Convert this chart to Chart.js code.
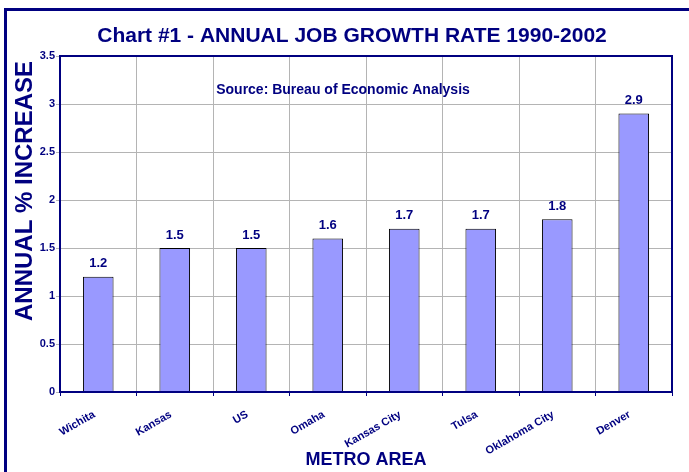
<!DOCTYPE html>
<html lang="en">
<head>
  <title>Annual Job Growth Rate</title>
  <meta charset="UTF-8">
  <script src="https://cdn.jsdelivr.net/npm/chart.js"></script>
  <style>
    body { margin: 0; background: #fff; }
  </style>
</head>
<body>
  <canvas id="growthChart" width="689" height="472"></canvas>

  <script>
    // chart data
    const metroAreas = ['Wichita', 'Kansas', 'US', 'Omaha', 'Kansas City', 'Tulsa', 'Oklahoma City', 'Denver'];
    const growthRates = [1.2, 1.5, 1.5, 1.6, 1.7, 1.7, 1.8, 2.9];
    const yTickLabels = ['0', '0.5', '1', '1.5', '2', '2.5', '3', '3.5'];
    const yMin = 0;
    const yMax = 3.5;
    const yStep = 0.5;

    const navy = '#000080';
    Chart.defaults.font.family = "'Liberation Sans', Arial, sans-serif";

    // frame round the whole chart, box round the plot, titles, source note, value labels
    const extras = {
      id: 'extras',
      beforeDraw(chart) {
        const ctx = chart.ctx;
        ctx.save();
        ctx.fillStyle = '#fff';
        ctx.fillRect(0, 0, chart.width, chart.height);
        ctx.strokeStyle = navy;
        ctx.lineWidth = 3;
        ctx.beginPath();
        ctx.moveTo(5.5, chart.height);
        ctx.lineTo(5.5, 9.5);
        ctx.lineTo(chart.width, 9.5);
        ctx.stroke();

        ctx.fillStyle = navy;
        ctx.textAlign = 'center';
        ctx.textBaseline = 'middle';
        ctx.font = "bold 21px 'Liberation Sans', Arial";
        ctx.fillText('Chart #1 - ANNUAL JOB GROWTH RATE 1990-2002', 352, 36);
        ctx.restore();
      },
      afterDatasetsDraw(chart) {
        const ctx = chart.ctx;
        const a = chart.chartArea;
        ctx.save();
        ctx.strokeStyle = navy;
        ctx.lineWidth = 2;
        ctx.strokeRect(a.left, a.top, a.right - a.left, a.bottom - a.top);

        ctx.fillStyle = navy;
        ctx.textAlign = 'center';
        ctx.textBaseline = 'middle';
        ctx.font = "bold 14px 'Liberation Sans', Arial";
        ctx.fillText('Source: Bureau of Economic Analysis', 343, 90);

        ctx.font = "bold 13px 'Liberation Sans', Arial";
        chart.getDatasetMeta(0).data.forEach((bar, i) => {
          ctx.fillText(growthRates[i].toFixed(1), bar.x, bar.y - 13);
        });

        ctx.translate(32, 191);
        ctx.rotate(-Math.PI / 2);
        ctx.textBaseline = 'alphabetic';
        ctx.font = "bold 24px 'Liberation Sans', Arial";
        ctx.fillText('ANNUAL % INCREASE', 0, 0);
        ctx.restore();
      }
    };

    new Chart(document.getElementById('growthChart'), {
      type: 'bar',
      data: {
        labels: metroAreas,
        datasets: [{
          data: growthRates,
          backgroundColor: '#9999ff',
          borderColor: '#000000',
          borderWidth: 1,
          categoryPercentage: 1,
          barPercentage: 0.4
        }]
      },
      options: {
        responsive: false,
        animation: false,
        layout: { padding: { left: 0, right: 17, top: 56, bottom: 0 } },
        plugins: {
          legend: { display: false },
          tooltip: { enabled: false }
        },
        scales: {
          x: {
            afterFit(scale) { scale.height = 80; },
            grid: { color: '#b4b4b4', tickLength: 4, tickColor: navy, offset: true },
            border: { display: true, color: navy, width: 2 },
            ticks: {
              color: navy,
              font: { size: 11, weight: 'bold' },
              minRotation: 30,
              maxRotation: 30,
              padding: 12,
              labelOffset: -4,
              autoSkip: false
            },
            title: {
              display: true,
              text: 'METRO AREA',
              color: navy,
              font: { size: 18, weight: 'bold' },
              padding: { top: 0, bottom: 1 }
            }
          },
          y: {
            min: yMin,
            max: yMax,
            afterFit(scale) { scale.width = 60; },
            grid: { color: '#b4b4b4', tickLength: 4 },
            border: { display: true, color: navy, width: 2 },
            ticks: {
              stepSize: yStep,
              color: navy,
              font: { size: 11, weight: 'bold' },
              padding: 1,
              callback: (value, i) => yTickLabels[i]
            }
          }
        }
      },
      plugins: [extras]
    });
  </script>
</body>
</html>
